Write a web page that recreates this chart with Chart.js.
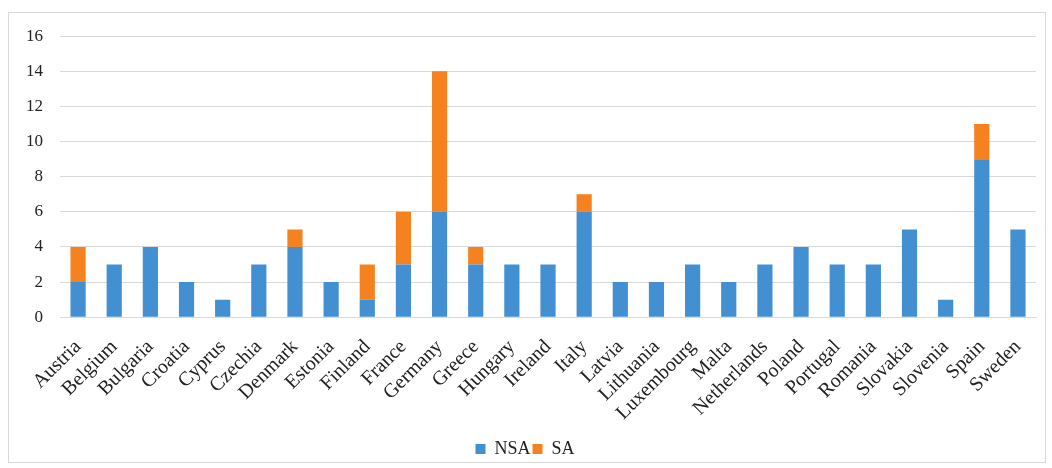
<!DOCTYPE html>
<html>
<head>
<meta charset="utf-8">
<script src="https://cdn.jsdelivr.net/npm/chart.js@4/dist/chart.umd.min.js"></script>
<style>
  body { margin: 0; background: #fff; overflow: hidden; }
  #frame { position: absolute; left: 8px; top: 12px; width: 1036px; height: 449px; border: 1px solid #d9d9d9; }
  #box { position: absolute; left: 9px; top: 9px; width: 1036px; height: 459px; }
</style>
</head>
<body>
<div id="frame"></div>
<div id="box"><canvas id="chart"></canvas></div>
<script>
const countries = ['Austria', 'Belgium', 'Bulgaria', 'Croatia', 'Cyprus', 'Czechia', 'Denmark', 'Estonia', 'Finland',
  'France', 'Germany', 'Greece', 'Hungary', 'Ireland', 'Italy', 'Latvia', 'Lithuania', 'Luxembourg', 'Malta',
  'Netherlands', 'Poland', 'Portugal', 'Romania', 'Slovakia', 'Slovenia', 'Spain', 'Sweden'];
const nsa = [2, 3, 4, 2, 1, 3, 4, 2, 1, 3, 6, 3, 3, 3, 6, 2, 2, 3, 2, 3, 4, 3, 3, 5, 1, 9, 5];
const sa = [2, 0, 0, 0, 0, 0, 1, 0, 2, 3, 8, 1, 0, 0, 1, 0, 0, 0, 0, 0, 0, 0, 0, 0, 0, 2, 0];

const serif = "'Liberation Serif', 'Times New Roman', serif";

new Chart(document.getElementById('chart'), {
  type: 'bar',
  data: {
    labels: countries,
    datasets: [
      { label: 'NSA', data: nsa, backgroundColor: '#428fd2', barPercentage: 0.42, categoryPercentage: 1 },
      { label: 'SA', data: sa, backgroundColor: '#f5821f', barPercentage: 0.42, categoryPercentage: 1 }
    ]
  },
  options: {
    responsive: true,
    maintainAspectRatio: false,
    animation: false,
    layout: { padding: { left: 0, right: 4, top: 4, bottom: 0 } },
    plugins: {
      tooltip: { enabled: false },
      legend: {
        position: 'bottom',
        labels: { font: { family: serif, size: 18 }, color: '#222', boxWidth: 10, boxHeight: 10, padding: 2 }
      }
    },
    scales: {
      x: {
        stacked: true,
        grid: { display: false },
        border: { color: '#d9d9d9' },
        ticks: { font: { family: serif, size: 20 }, color: '#222', maxRotation: 45, minRotation: 45, autoSkip: false, padding: 10 },
        afterFit: (scale) => { scale.height += 3; }
      },
      y: {
        stacked: true,
        min: 0, max: 16,
        grid: { color: '#d9d9d9', drawTicks: false },
        border: { display: false },
        ticks: { stepSize: 2, font: { family: serif, size: 17 }, color: '#222', padding: 17 }
      }
    }
  }
});
</script>
</body>
</html>
